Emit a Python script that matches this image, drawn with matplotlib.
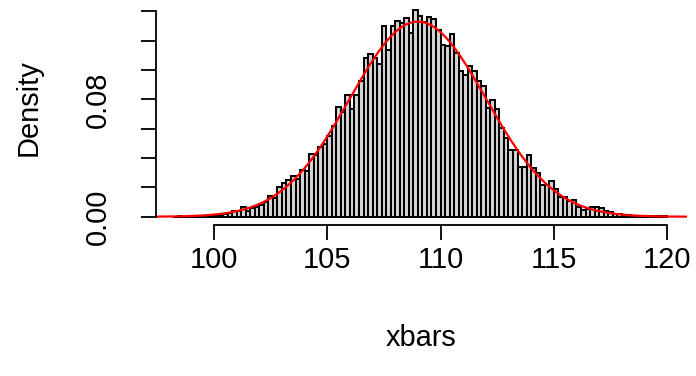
import numpy as np
import matplotlib
matplotlib.use("Agg")
import matplotlib.pyplot as plt

# ---- data ----
break_start = 98.2
bin_width = 0.2
densities = [
    0.0000, 0.0007, 0.0000, 0.0002, 0.0005, 0.0007, 0.0005, 0.0007, 0.0009,
    0.0011, 0.0014, 0.0018, 0.0023, 0.0041, 0.0041, 0.0066, 0.0039, 0.0059,
    0.0064, 0.0077, 0.0098, 0.0141, 0.0127, 0.0205, 0.0230, 0.0250, 0.0278,
    0.0257, 0.0319, 0.0314, 0.0428, 0.0421, 0.0478, 0.0496, 0.0551, 0.0615,
    0.0751, 0.0717, 0.0831, 0.0733, 0.0831, 0.0922, 0.1081, 0.1111, 0.1081,
    0.1040, 0.1297, 0.1133, 0.1297, 0.1331, 0.1320, 0.1354, 0.1252, 0.1407,
    0.1370, 0.1325, 0.1361, 0.1347, 0.1275, 0.1168, 0.1161, 0.1245, 0.1115,
    0.0995, 0.0967, 0.1024, 0.0990, 0.0922, 0.0892, 0.0740, 0.0797, 0.0733,
    0.0603, 0.0535, 0.0455, 0.0455, 0.0337, 0.0337, 0.0421, 0.0330, 0.0296,
    0.0216, 0.0216, 0.0244, 0.0187, 0.0132, 0.0132, 0.0107, 0.0114, 0.0068,
    0.0046, 0.0050, 0.0064, 0.0064, 0.0057, 0.0041, 0.0034, 0.0020, 0.0018,
    0.0014, 0.0009, 0.0007, 0.0007, 0.0005, 0.0005, 0.0002, 0.0005, 0.0002,
    0.0002,
]
curve_mean = 109
curve_sd = 3
x_ticks = [100, 105, 110, 115, 120]
y_ticks = [0.00, 0.02, 0.04, 0.06, 0.08, 0.10, 0.12, 0.14]
y_tick_labels = ["0.00", "", "", "", "0.08", "", "", ""]

# ---- figure ----
plt.rcParams['font.family'] = ['Liberation Sans', 'DejaVu Sans']
FS = 20.9
W, H = 696, 376
fig = plt.figure(figsize=(W / 100, H / 100), dpi=100)
L, R, T, B = 156, 687, 2, 225
ax = fig.add_axes([L / W, 1 - B / H, (R - L) / W, (B - T) / H])

dens = np.array(densities)
edges = break_start + bin_width * np.arange(len(dens) + 1)
ax.bar(edges[:-1], dens, width=bin_width, align='edge',
       color='#d3d3d3', edgecolor='black', linewidth=1.45)

xmin, xmax = 97.44, 120.88
ymax = dens.max()
ax.set_xlim(xmin, xmax)
ax.set_ylim(-0.04 * ymax, 1.04 * ymax)

xs = np.linspace(xmin, xmax, 400)
ys = np.exp(-0.5 * ((xs - curve_mean) / curve_sd) ** 2) / (curve_sd * np.sqrt(2 * np.pi))
ax.plot(xs, ys, color='red', linewidth=1.6, clip_on=True)

for s in ['top', 'right']:
    ax.spines[s].set_visible(False)
ax.spines['bottom'].set_bounds(x_ticks[0], x_ticks[-1])
ax.spines['left'].set_bounds(y_ticks[0], y_ticks[-1])
for s in ['bottom', 'left']:
    ax.spines[s].set_linewidth(1.3)

ax.set_xticks(x_ticks)
ax.set_xticklabels([str(t) for t in x_ticks])
ax.set_yticks(y_ticks)
ax.set_yticklabels(y_tick_labels, rotation=90, va='center')
ax.tick_params(axis='both', direction='out', length=11, width=1.3,
               labelsize=FS, color='black')
ax.tick_params(axis='x', pad=4)
ax.tick_params(axis='y', pad=21)

ax.set_xlabel("xbars", fontsize=FS)
ax.set_ylabel("Density", fontsize=FS)
ax.xaxis.set_label_coords((421 - L) / (R - L), (B - 324) / (B - T))
ax.yaxis.set_label_coords((43 - L) / (R - L), (B - 108) / (B - T))

fig.savefig("out.png", dpi=100)
